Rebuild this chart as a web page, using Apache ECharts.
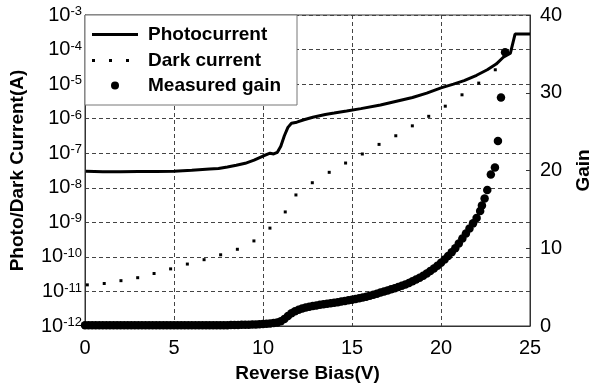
<!DOCTYPE html>
<html>
<head>
<meta charset="utf-8">
<script src="https://cdn.jsdelivr.net/npm/echarts@6/dist/echarts.min.js"></script>
<style>html,body{margin:0;padding:0;background:#fff;}#c{width:594px;height:388px;}</style>
</head>
<body>
<div id="c"></div>
<script>
// ---- data ----
var photoVolts = [0.05,1,2,3,4,5,6,7,7.5,8,8.5,9,9.5,10,10.4,10.6,10.8,11.0,11.2,11.4,11.6,11.9,12.3,12.8,13.5,14.0,14.7,15.5,16.6,17.5,18.4,19.2,20.0,20.7,21.3,22.0,22.6,23.1,23.5,23.9,24.16,25.0];
var photoCurrent = [3.0e-8,2.9e-8,2.9e-8,2.95e-8,2.95e-8,3.0e-8,3.2e-8,3.5e-8,3.6e-8,4.0e-8,4.5e-8,5.1e-8,6.3e-8,8.3e-8,1.0e-7,9.5e-8,1.05e-7,1.6e-7,3.2e-7,5.6e-7,7.4e-7,7.9e-7,9.3e-7,1.1e-6,1.32e-6,1.45e-6,1.66e-6,1.95e-6,2.5e-6,3.2e-6,4.1e-6,5.5e-6,7.8e-6,1.0e-5,1.26e-5,1.8e-5,2.6e-5,3.8e-5,6.0e-5,7.9e-5,2.8e-4,2.8e-4];

var darkVolts = [0.13,1.08,2.02,2.96,3.88,4.81,5.75,6.69,7.62,8.56,9.49,10.39,11.25,11.85,12.77,13.72,14.64,15.58,16.52,17.46,18.39,19.31,20.24,21.18,22.12,23.05];
var darkCurrent = [1.55e-11,1.7e-11,2.05e-11,2.5e-11,3.3e-11,4.5e-11,6.2e-11,8.3e-11,1.15e-10,1.66e-10,2.9e-10,6.8e-10,2.0e-9,6.2e-9,1.4e-8,2.8e-8,5.2e-8,9.5e-8,1.8e-7,3.2e-7,6.2e-7,1.17e-6,2.3e-6,4.9e-6,1.07e-5,2.6e-5];

var gainVolts = [0,0.2,0.4,0.6,0.8,1.0,1.2,1.4,1.6,1.8,2.0,2.2,2.4,2.6,2.8,3.0,3.2,3.4,3.6,3.8,4.0,4.2,4.4,4.6,4.8,5.0,5.2,5.4,5.6,5.8,6.0,6.2,6.4,6.6,6.8,7.0,7.2,7.4,7.6,7.8,8.0,8.2,8.4,8.6,8.8,9.0,9.2,9.4,9.6,9.8,10.0,10.2,10.4,10.6,10.8,11.0,11.2,11.4,11.6,11.8,12.0,12.2,12.4,12.6,12.8,13.0,13.2,13.4,13.6,13.8,14.0,14.2,14.4,14.6,14.8,15.0,15.2,15.4,15.6,15.8,16.0,16.2,16.4,16.6,16.8,17.0,17.2,17.4,17.6,17.8,18.0,18.2,18.4,18.6,18.8,19.0,19.2,19.4,19.6,19.8,20.0,20.2,20.4,20.6,20.8,21.0,21.2,21.4,21.6,21.8,22.0,22.2,22.3,22.45,22.6,22.8,23.03,23.2,23.37,23.6];
var gainValues = [0.1,0.1,0.1,0.1,0.1,0.1,0.1,0.1,0.1,0.1,0.1,0.1,0.1,0.1,0.1,0.1,0.1,0.1,0.1,0.1,0.1,0.1,0.1,0.1,0.1,0.1,0.1,0.1,0.1,0.1,0.1,0.1,0.1,0.1,0.1,0.1,0.1,0.1,0.1,0.1,0.1,0.12,0.13,0.14,0.15,0.16,0.17,0.18,0.2,0.22,0.25,0.28,0.32,0.38,0.45,0.6,0.9,1.3,1.65,1.9,2.1,2.25,2.38,2.48,2.57,2.65,2.72,2.79,2.86,2.93,3.0,3.07,3.14,3.22,3.3,3.38,3.47,3.56,3.66,3.77,3.89,4.02,4.16,4.3,4.44,4.58,4.72,4.87,5.02,5.18,5.35,5.54,5.75,5.97,6.2,6.46,6.75,7.06,7.4,7.76,8.14,8.55,9.0,9.5,10.0,10.6,11.25,11.9,12.55,13.2,13.9,14.8,15.5,16.4,17.5,19.5,20.4,23.8,29.4,35.2];

var xTicks = [0,5,10,15,20,25];
var yExponents = [-12,-11,-10,-9,-8,-7,-6,-5,-4,-3];
var gainTicks = [0,10,20,30,40];

var seriesNames = ['Photocurrent','Dark current','Measured gain'];

function pairs(xs, ys){ var out=[]; for (var i=0;i<xs.length;i++) out.push([xs[i], ys[i]]); return out; }

var FONT = '"Liberation Sans", Arial, sans-serif';
var chart = echarts.init(document.getElementById('c'), null, {renderer:'canvas'});

var legendText = {fontFamily:FONT, fontSize:19, fontWeight:'bold', color:'#000'};
var legendBase = {orient:'horizontal', padding:0, selectedMode:false};

chart.setOption({
  animation:false,
  backgroundColor:'#fff',
  grid:{left:85, right:64, top:15, bottom:62, containLabel:false, outerBoundsMode:'none',
        show:true, borderColor:'#333', borderWidth:1, backgroundColor:'transparent'},
  graphic:[{type:'rect', z:3, shape:{x:85, y:15, width:212, height:90}, style:{fill:'#fff', stroke:'#777', lineWidth:1}}],
  legend:[
    Object.assign({}, legendBase, {left:92, top:25, itemWidth:46, itemHeight:3, z:5,
      textStyle:Object.assign({padding:[0,0,0,5]}, legendText),
      data:[{name:seriesNames[0], icon:'path://M0,0h46v3h-46z'}]}),
    Object.assign({}, legendBase, {left:92, top:51, itemWidth:37, itemHeight:3, z:5,
      textStyle:Object.assign({padding:[0,0,0,14]}, legendText),
      data:[{name:seriesNames[1], icon:'path://M0,0h3v3h-3z M17,0h3v3h-3z M34,0h3v3h-3z'}]}),
    Object.assign({}, legendBase, {left:111, top:76, itemWidth:8, itemHeight:8, z:5,
      textStyle:Object.assign({padding:[0,0,0,24]}, legendText),
      data:[{name:seriesNames[2], icon:'circle'}]})
  ],
  xAxis:{
    type:'value', min:xTicks[0], max:xTicks[xTicks.length-1], interval:5,
    name:'Reverse Bias(V)', nameLocation:'middle', nameGap:38,
    nameTextStyle:{fontFamily:FONT, fontSize:19, fontWeight:'bold', color:'#000'},
    axisLine:{lineStyle:{color:'#333', width:1}},
    axisTick:{show:false},
    axisLabel:{fontFamily:FONT, fontSize:20, color:'#000', margin:12},
    splitLine:{show:true, lineStyle:{color:'#444', type:[4,3], width:1}}
  },
  yAxis:[{
    type:'log', logBase:10, min:1e-12, max:1e-3,
    name:'Photo/Dark Current(A)', nameLocation:'middle', nameGap:58, nameRotate:90,
    nameTextStyle:{fontFamily:FONT, fontSize:19, fontWeight:'bold', color:'#000'},
    axisLine:{show:true, lineStyle:{color:'#333', width:1}},
    axisTick:{show:false},
    axisLabel:{margin:3,
      formatter:function(v){ var e=Math.round(Math.log10(v)); if (yExponents.indexOf(e)<0) return ''; return '{b|10}{s|'+e+'}'; },
      rich:{b:{fontFamily:FONT, fontSize:20, color:'#000'}, s:{fontFamily:FONT, fontSize:13, color:'#000', verticalAlign:'top', padding:[0,0,6,0]}}},
    splitLine:{show:true, lineStyle:{color:'#444', type:[4,3], width:1}}
  },{
    type:'value', min:gainTicks[0], max:gainTicks[gainTicks.length-1], interval:10, position:'right',
    name:'Gain', nameLocation:'middle', nameGap:44, nameRotate:90,
    nameTextStyle:{fontFamily:FONT, fontSize:19, fontWeight:'bold', color:'#000'},
    axisLine:{show:true, lineStyle:{color:'#333', width:1}},
    axisTick:{show:true, inside:true, length:4, lineStyle:{color:'#333'}},
    axisLabel:{fontFamily:FONT, fontSize:20, color:'#000', margin:10},
    splitLine:{show:false}
  }],
  series:[
    {name:seriesNames[2], type:'scatter', yAxisIndex:1, symbol:'circle', symbolSize:8.5,
     itemStyle:{color:'#000', opacity:1}, data:pairs(gainVolts, gainValues), z:2},
    {name:seriesNames[1], type:'scatter', yAxisIndex:0, symbol:'rect', symbolSize:3,
     itemStyle:{color:'#000', opacity:1}, data:pairs(darkVolts, darkCurrent), z:2},
    {name:seriesNames[0], type:'line', yAxisIndex:0, showSymbol:false, symbol:'none',
     lineStyle:{color:'#000', width:3}, itemStyle:{color:'#000'}, data:pairs(photoVolts, photoCurrent), z:2}
  ]
});
</script>
</body>
</html>
